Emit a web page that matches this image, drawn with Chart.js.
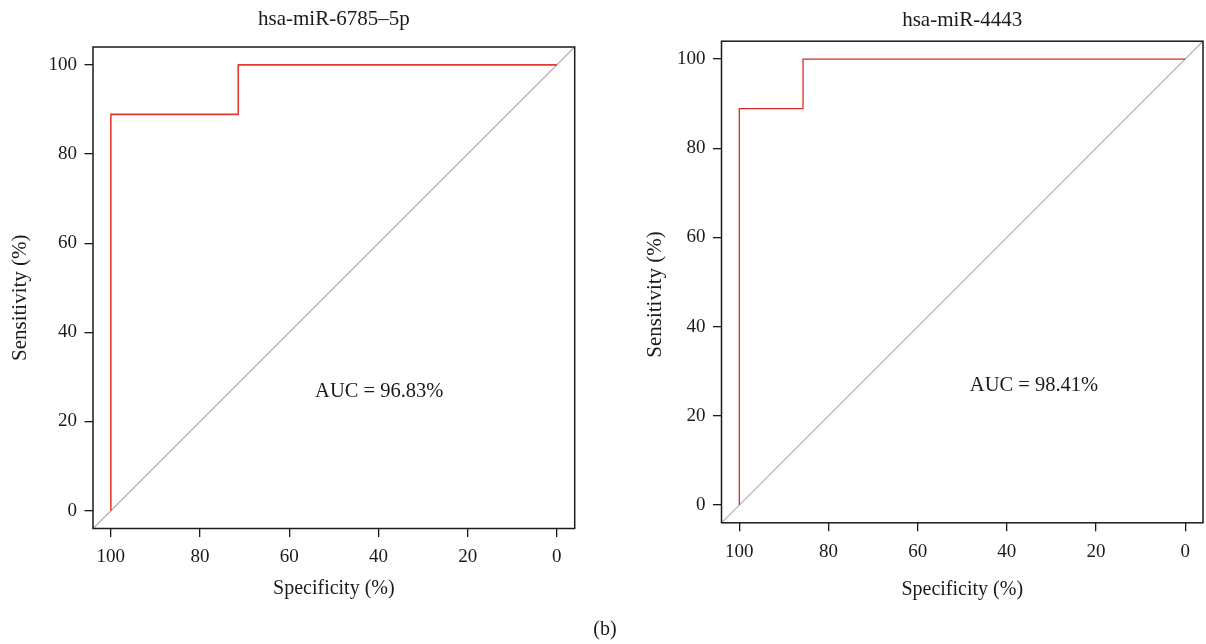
<!DOCTYPE html>
<html>
<head>
<meta charset="utf-8">
<script src="https://cdn.jsdelivr.net/npm/chart.js@4.4.1/dist/chart.umd.min.js"></script>
<style>
  html, body { margin: 0; padding: 0; background: #ffffff; }
  #wrap { position: relative; width: 1206px; height: 644px; overflow: hidden; background: #ffffff; }
  canvas { position: absolute; top: 0; }
  #c1 { left: 0; }
  #c2 { left: 603px; }
  #caption {
    position: absolute; left: 0; width: 1210px; top: 616px;
    text-align: center; font: 20px "Liberation Serif", serif; color: #1a1a1a; line-height: 24px;
  }
</style>
</head>
<body>
<div id="wrap">
  <canvas id="c1" width="603" height="644"></canvas>
  <canvas id="c2" width="603" height="644"></canvas>
  <div id="caption">(b)</div>
</div>
<script>
// Axis ticks and limits (percent), shared by both ROC panels
const TICKS = [0, 20, 40, 60, 80, 100];
const AXIS_MIN = -4;
const AXIS_MAX = 104;

// Chance line across the whole plotting box
const CHANCE_SPEC = [AXIS_MAX, AXIS_MIN];
const CHANCE_SENS = [AXIS_MIN, AXIS_MAX];

// hsa-miR-6785-5p ROC curve
const SPEC_6785 = [100, 100, 71.43, 71.43, 0];
const SENS_6785 = [0, 88.89, 88.89, 100, 100];
const AUC_6785 = 96.83;

// hsa-miR-4443 ROC curve
const SPEC_4443 = [100, 100, 85.71, 85.71, 0];
const SENS_4443 = [0, 88.89, 88.89, 100, 100];
const AUC_4443 = 98.41;

const FONT = '"Liberation Serif", "Times New Roman", serif';
const INK = '#1a1a1a';

const toPoints = (xs, ys) => xs.map((v, i) => ({ x: v, y: ys[i] }));

// Box, panel title, axis titles and AUC annotation
const decor = {
  id: 'decor',
  afterDraw(chart, args, o) {
    const { ctx, chartArea: a, scales: { x, y } } = chart;
    ctx.save();
    ctx.strokeStyle = INK;
    ctx.lineWidth = 1.5;
    ctx.strokeRect(a.left, a.top, a.right - a.left, a.bottom - a.top);

    ctx.fillStyle = INK;
    ctx.textAlign = 'center';
    ctx.textBaseline = 'middle';
    const cx = (a.left + a.right) / 2;
    ctx.font = '21px ' + FONT;
    ctx.fillText(o.title, cx, a.top - o.titleGap);
    ctx.font = '20px ' + FONT;
    ctx.fillText('Specificity (%)', cx, a.bottom + o.xTitleGap);

    ctx.save();
    ctx.font = '21px ' + FONT;
    ctx.translate(o.yTitleX, (a.top + a.bottom) / 2 + o.yTitleShift);
    ctx.rotate(-Math.PI / 2);
    ctx.fillText('Sensitivity (%)', 0, 0);
    ctx.restore();

    ctx.font = '20.5px ' + FONT;
    ctx.textAlign = 'left';
    ctx.fillText('AUC = ' + o.auc.toFixed(2) + '%',
      x.getPixelForValue(o.aucAt[0]), y.getPixelForValue(o.aucAt[1]));
    ctx.restore();
  }
};

function axis(reverse, yWidth, xHeight, isX) {
  return {
    type: 'linear',
    reverse: reverse,
    min: AXIS_MIN,
    max: AXIS_MAX,
    afterBuildTicks: s => { s.ticks = TICKS.map(v => ({ value: v })); },
    afterFit: s => { if (isX) s.height = xHeight; else s.width = yWidth; },
    ticks: {
      font: { family: FONT, size: 19 },
      color: INK,
      padding: isX ? 9 : 7.5,
      maxRotation: 0,
      autoSkip: false
    },
    grid: {
      display: true,
      drawOnChartArea: false,
      drawTicks: true,
      tickLength: 8.5,
      color: INK,
      lineWidth: 1.3
    },
    border: { display: false }
  };
}

function rocChart(id, spec, sens, lineColor, lineWidth, geo, decorOpts) {
  return new Chart(document.getElementById(id), {
    type: 'line',
    data: {
      datasets: [
        {
          data: toPoints(spec, sens),
          borderColor: lineColor,
          borderWidth: lineWidth,
          pointRadius: 0,
          fill: false,
          tension: 0,
          order: 1
        },
        {
          data: toPoints(CHANCE_SPEC, CHANCE_SENS),
          borderColor: '#a8a8a8',
          borderWidth: 1.1,
          pointRadius: 0,
          fill: false,
          tension: 0,
          order: 2
        }
      ]
    },
    options: {
      responsive: false,
      animation: false,
      devicePixelRatio: 1,
      layout: { padding: { left: 0, right: geo.right, top: geo.top, bottom: 0 } },
      scales: {
        x: axis(true, geo.yWidth, geo.xHeight, true),
        y: axis(false, geo.yWidth, geo.xHeight, false)
      },
      plugins: {
        legend: { display: false },
        tooltip: { enabled: false },
        title: { display: false },
        decor: decorOpts
      }
    },
    plugins: [decor]
  });
}

rocChart('c1', SPEC_6785, SENS_6785, '#e23b2e', 1.6,
  { yWidth: 93, right: 28.3, top: 47, xHeight: 115.5 },
  { title: 'hsa-miR-6785–5p', titleGap: 28, xTitleGap: 60.5, yTitleX: 20, yTitleShift: 10,
    auc: AUC_6785, aucAt: [54.2, 26.6] });

rocChart('c2', SPEC_4443, SENS_4443, '#dd2a22', 1.3,
  { yWidth: 118.5, right: 3, top: 41.2, xHeight: 121.2 },
  { title: 'hsa-miR-4443', titleGap: 21, xTitleGap: 67, yTitleX: 52, yTitleShift: 12.5,
    auc: AUC_4443, aucAt: [48.3, 26.75] });
</script>
</body>
</html>
